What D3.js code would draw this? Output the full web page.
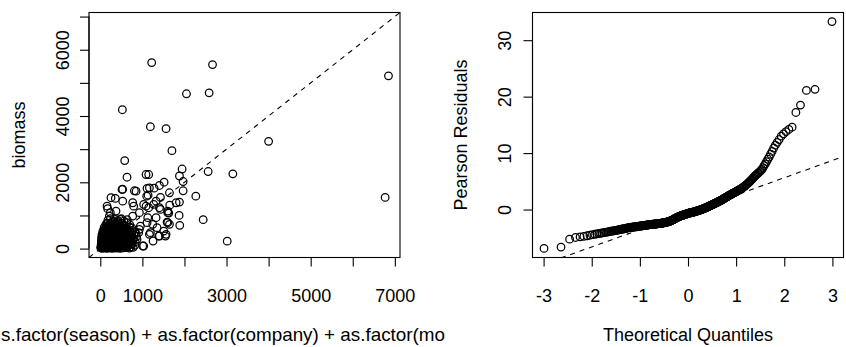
<!DOCTYPE html>
<html><head><meta charset="utf-8">
<script src="https://cdn.jsdelivr.net/npm/d3@7"></script>
<style>
body{margin:0;background:#fff}
svg{display:block}
text{font-family:"Liberation Sans",Arial,Helvetica,sans-serif;fill:#000}
</style>
</head><body>
<svg id="c" width="846" height="347"></svg>
<script>
// ---------- DATA ----------
// left panel: fitted values (x) vs observed biomass (y)
const fitted = [
1221,2667,2048,2587,524,1190,1563,1702,6849,6770,
4000,3150,2563,3016,2445,580,635,1087,1150,1944,
1881,1968,1968,1516,1278,1111,516,532,810,357,
1135,1429,2270,1873,1888,1881,1627,1587,1650,160,
793,1031,1150,1269,1429,1603,1603,1508,1389,1548,
1254,1031,1190,1349,1111,952,912,873,714,476,
238,850,1167,1405,1643,254,1103,1325,1405,1087,
770,532,175,373,214,929,770,1127,1325,1246,
1603,1643,1563,1405,1167,1008,929,1802,
15,25,40,55,70,85,100,120,135,150,170,185,200,220,240,260,280,300,320,345,365,390,410,430,455,480,500,530,560,590,620,650,690,730,780,
20,35,50,65,80,95,110,125,140,160,175,190,210,230,250,270,290,310,330,350,370,395,420,445,470,495,520,550,580,610,640,680,720,760,820,
25,40,55,75,90,105,120,140,155,170,190,205,225,245,265,285,305,325,345,370,390,415,440,465,490,515,545,575,605,640,680,720,770,830,
30,50,70,90,110,130,150,170,190,210,230,255,275,300,320,345,365,390,415,440,465,490,520,550,585,620,660,700,750,800,860,
40,65,85,105,125,145,165,185,210,235,255,280,305,330,355,380,405,430,455,485,515,545,580,615,655,700,745,800,850,
60,85,110,135,160,180,205,230,255,280,305,330,360,385,410,440,470,500,535,570,610,650,700,760,820,
90,120,145,170,200,225,255,285,310,340,370,400,430,465,500,540,580,630,690,750,
130,165,200,240,275,310,350,390,425,470,520,570,630,700,
180,240,300,360,420,500,560,640,
10,30,45,60,75,95,115,130,155,180,200,230,260,290,320,350,380,410,440,470
];
const biomass = [
5612,5552,4671,4700,4190,3678,3618,2955,5212,1543,
3236,2256,2325,225,872,2656,2153,2235,2235,2400,
2190,2024,1744,2003,1822,1814,1783,1790,1744,1513,
1612,1543,1582,1001,701,1402,1071,800,1311,1281,
1281,1332,1233,1332,1182,1083,782,529,379,379,
229,78,481,632,782,680,481,280,180,881,
1083,1733,1834,1904,1684,1534,1582,1432,1233,1281,
1383,1432,1203,1131,981,1083,981,932,932,731,
1131,731,430,379,430,78,580,1383,
20,60,10,45,80,25,55,15,70,35,5,60,30,75,20,50,10,65,35,80,15,50,70,25,55,10,75,40,20,60,30,70,15,50,40,
120,160,100,140,170,110,150,95,175,125,90,160,115,145,100,170,130,90,155,120,175,105,140,165,95,130,170,110,150,95,135,165,120,150,100,
230,200,260,215,270,190,245,210,275,235,195,260,220,270,200,240,185,265,215,250,195,275,225,190,255,210,265,230,195,250,215,270,230,200,
330,300,360,320,375,295,345,310,370,285,335,365,300,350,290,375,320,355,295,340,370,310,345,290,365,320,355,300,345,310,360,
420,450,395,470,430,390,455,415,475,400,440,385,465,420,395,455,430,475,400,445,390,470,425,455,400,440,470,420,450,
520,560,500,545,575,510,550,490,570,525,495,560,515,575,540,500,555,520,575,495,540,570,510,550,490,
630,600,665,620,590,650,610,675,635,595,660,615,670,600,645,620,670,600,650,625,
720,770,700,750,790,715,760,695,780,730,760,700,780,720,
850,900,820,880,840,900,830,870,
40,90,30,150,50,200,40,130,80,140,60,110,150,40,190,60,130,20,100,160
];
// right panel: sorted Pearson residuals (n = 360)
const residuals = [
-6.89,-6.65,-5.25,-4.95,-4.85,-4.75,-4.65,-4.55,-4.45,-4.38,
-4.32,-4.25,-4.2,-4.15,-4.1,-4.05,-4.0,-3.95,-3.9,-3.85,
-3.82,-3.79,-3.76,-3.73,-3.68,-3.65,-3.62,-3.58,-3.54,-3.5,
-3.48,-3.45,-3.42,-3.4,-3.37,-3.33,-3.3,-3.27,-3.24,-3.2,
-3.19,-3.17,-3.16,-3.14,-3.13,-3.11,-3.1,-3.08,-3.07,-3.05,
-3.04,-3.02,-3.01,-2.99,-2.98,-2.96,-2.95,-2.94,-2.92,-2.91,
-2.9,-2.89,-2.87,-2.86,-2.84,-2.83,-2.81,-2.8,-2.78,-2.77,
-2.76,-2.74,-2.73,-2.72,-2.71,-2.7,-2.68,-2.67,-2.66,-2.65,
-2.64,-2.63,-2.62,-2.61,-2.6,-2.6,-2.59,-2.58,-2.58,-2.57,
-2.56,-2.55,-2.54,-2.53,-2.52,-2.51,-2.5,-2.49,-2.48,-2.47,
-2.46,-2.45,-2.44,-2.43,-2.42,-2.41,-2.4,-2.39,-2.38,-2.37,
-2.35,-2.34,-2.33,-2.31,-2.3,-2.28,-2.27,-2.25,-2.24,-2.22,
-2.2,-2.18,-2.16,-2.14,-2.12,-2.1,-2.08,-2.06,-2.03,-2.0,
-1.97,-1.94,-1.91,-1.88,-1.85,-1.82,-1.79,-1.76,-1.72,-1.68,
-1.64,-1.6,-1.57,-1.53,-1.5,-1.47,-1.44,-1.41,-1.38,-1.35,
-1.33,-1.3,-1.28,-1.25,-1.23,-1.2,-1.18,-1.15,-1.13,-1.1,
-1.08,-1.06,-1.04,-1.02,-1.0,-0.98,-0.96,-0.94,-0.92,-0.9,
-0.88,-0.86,-0.84,-0.82,-0.8,-0.78,-0.76,-0.74,-0.72,-0.7,
-0.68,-0.66,-0.65,-0.63,-0.62,-0.6,-0.59,-0.57,-0.56,-0.55,
-0.53,-0.52,-0.5,-0.49,-0.47,-0.46,-0.44,-0.43,-0.41,-0.4,
-0.38,-0.36,-0.34,-0.32,-0.3,-0.28,-0.26,-0.24,-0.22,-0.2,
-0.18,-0.16,-0.14,-0.12,-0.1,-0.08,-0.06,-0.04,-0.02,0.0,
0.02,0.05,0.07,0.1,0.12,0.15,0.17,0.2,0.22,0.25,
0.28,0.31,0.34,0.37,0.4,0.43,0.46,0.49,0.52,0.55,
0.58,0.61,0.64,0.67,0.7,0.73,0.76,0.79,0.82,0.85,
0.88,0.92,0.95,0.99,1.02,1.06,1.09,1.13,1.16,1.2,
1.22,1.26,1.3,1.33,1.37,1.41,1.44,1.48,1.52,1.56,
1.6,1.64,1.68,1.72,1.77,1.82,1.87,1.92,1.96,2.0,
2.05,2.1,2.15,2.2,2.25,2.3,2.35,2.4,2.45,2.5,
2.55,2.6,2.65,2.7,2.75,2.8,2.85,2.9,2.95,3.0,
3.05,3.1,3.15,3.2,3.26,3.32,3.38,3.44,3.5,3.56,
3.63,3.7,3.77,3.85,3.93,4.01,4.1,4.2,4.3,4.4,
4.5,4.62,4.75,4.88,5.0,5.15,5.3,5.45,5.6,5.8,
5.95,6.1,6.25,6.4,6.55,6.7,6.9,7.1,7.4,7.8,
8.1,8.5,8.9,9.3,9.8,10.3,10.9,11.4,11.9,12.4,
13.0,13.4,13.8,14.2,14.6,17.2,18.5,21.1,21.3,33.3
];
// ticks / labels
const scatterTicks = [0,1000,2000,3000,4000,5000,6000,7000];
const scatterXLabels = [0,1000,3000,5000,7000];
const scatterYLabels = [0,2000,4000,6000];
const qqXTicks = [-3,-2,-1,0,1,2,3];
const qqYTicks = [0,10,20,30];
const leftXTitle = "s.factor(season) + as.factor(company) + as.factor(mo";
const leftYTitle = "biomass";
const rightXTitle = "Theoretical Quantiles";
const rightYTitle = "Pearson Residuals";

// ---------- HELPERS ----------
function qnorm(p){
  const a=[-3.969683028665376e+01,2.209460984245205e+02,-2.759285104469687e+02,1.383577518672690e+02,-3.066479806614716e+01,2.506628277459239e+00];
  const b=[-5.447609879822406e+01,1.615858368580409e+02,-1.556989798598866e+02,6.680131188771972e+01,-1.328068155288572e+01];
  const c=[-7.784894002430293e-03,-3.223964580411365e-01,-2.400758277161838e+00,-2.549732539343734e+00,4.374664141464968e+00,2.938163982698783e+00];
  const d=[7.784695709041462e-03,3.224671290700398e-01,2.445134137142996e+00,3.754408661907416e+00];
  const pl=0.02425, ph=1-pl; let q,r;
  if(p<pl){q=Math.sqrt(-2*Math.log(p));return (((((c[0]*q+c[1])*q+c[2])*q+c[3])*q+c[4])*q+c[5])/((((d[0]*q+d[1])*q+d[2])*q+d[3])*q+1);}
  if(p<=ph){q=p-0.5;r=q*q;return (((((a[0]*r+a[1])*r+a[2])*r+a[3])*r+a[4])*r+a[5])*q/(((((b[0]*r+b[1])*r+b[2])*r+b[3])*r+b[4])*r+1);}
  q=Math.sqrt(-2*Math.log(1-p));return -(((((c[0]*q+c[1])*q+c[2])*q+c[3])*q+c[4])*q+c[5])/((((d[0]*q+d[1])*q+d[2])*q+d[3])*q+1);
}
const ext = ([a,b]) => { const d=(b-a)*0.04; return [a-d,b+d]; };

const svg = d3.select("#c");
const FS = 18, R = 3.8, SW = 1.25;
const plotTop = 12.5, plotBottom = 257.5;
const FONT = '"Liberation Sans",Arial,sans-serif';

function panel(cfg){
  const g = svg.append("g");
  const x = d3.scaleLinear().domain(cfg.xd).range([cfg.left, cfg.right]);
  const y = d3.scaleLinear().domain(cfg.yd).range([plotBottom, plotTop]);
  const clipId = cfg.id + "clip";
  svg.append("defs").append("clipPath").attr("id", clipId)
    .append("rect").attr("x", cfg.left).attr("y", plotTop)
    .attr("width", cfg.right-cfg.left).attr("height", plotBottom-plotTop);
  const pg = g.append("g").attr("clip-path", `url(#${clipId})`);
  pg.selectAll("circle").data(cfg.pts).enter().append("circle")
    .attr("cx", d=>x(d[0])).attr("cy", d=>y(d[1])).attr("r", R)
    .attr("fill","none").attr("stroke","#000").attr("stroke-width",SW);
  const [x0,x1] = cfg.xd;
  pg.append("line").attr("x1", x(x0)).attr("y1", y(cfg.line(x0)))
    .attr("x2", x(x1)).attr("y2", y(cfg.line(x1)))
    .attr("stroke","#000").attr("stroke-width",1.1).attr("stroke-dasharray","5,5");
  g.append("rect").attr("x", cfg.left).attr("y", plotTop)
    .attr("width", cfg.right-cfg.left).attr("height", plotBottom-plotTop)
    .attr("fill","none").attr("stroke","#000").attr("stroke-width",1.1);
  const xa = g.append("g").attr("transform",`translate(0,${plotBottom})`)
    .call(d3.axisBottom(x).tickValues(cfg.xt).tickSize(9).tickSizeOuter(0)
      .tickFormat(v => cfg.xl.includes(v) ? String(v) : ""));
  xa.select(".domain").remove();
  xa.append("line").attr("x1", x(cfg.xt[0])).attr("x2", x(cfg.xt[cfg.xt.length-1]))
    .attr("stroke","#000").attr("stroke-width",1.1);
  xa.selectAll(".tick line").attr("stroke","#000").attr("stroke-width",1.1);
  xa.selectAll(".tick text").attr("y", 44).attr("dy",0)
    .style("font-size", FS+"px").style("font-family",FONT).attr("fill","#000");
  const ya = g.append("g").attr("transform",`translate(${cfg.left},0)`)
    .call(d3.axisLeft(y).tickValues(cfg.yt).tickSize(9).tickSizeOuter(0)
      .tickFormat(v => cfg.yl.includes(v) ? String(v) : ""));
  ya.select(".domain").remove();
  ya.append("line").attr("y1", y(cfg.yt[0])).attr("y2", y(cfg.yt[cfg.yt.length-1]))
    .attr("stroke","#000").attr("stroke-width",1.1);
  ya.selectAll(".tick line").attr("stroke","#000").attr("stroke-width",1.1);
  ya.selectAll(".tick text").attr("x",0).attr("y",0).attr("dy",0)
    .attr("text-anchor","middle").attr("transform",`translate(${-cfg.ylabOff},0) rotate(-90)`)
    .style("font-size", FS+"px").style("font-family",FONT).attr("fill","#000");
  g.append("text").attr("transform",`translate(${cfg.ytitleX},${(plotTop+plotBottom)/2}) rotate(-90)`)
    .attr("text-anchor","middle").style("font-size",FS+"px").text(cfg.ytitle);
  return {g,x,y};
}

// left panel
const lim = ext(d3.extent(fitted.concat(biomass)));
panel({
  id:"l", left:89, right:400, xd:lim, yd:lim,
  pts: fitted.map((f,i)=>[f,biomass[i]]),
  line: v=>v,
  xt: scatterTicks, xl: scatterXLabels, yt: scatterTicks, yl: scatterYLabels,
  ylabOff: 20.5, ytitleX: 24.5, ytitle: leftYTitle
});
svg.append("text")
  .attr("x",1).attr("y",341).attr("text-anchor","start")
  .attr("textLength",444).attr("lengthAdjust","spacingAndGlyphs")
  .style("font-size","18.6px").text(leftXTitle);

// right panel (normal QQ)
const n = residuals.length;
const aPP = n <= 10 ? 3/8 : 0.5;
const sorted = residuals.slice().sort((a,b)=>a-b);
const theo = sorted.map((_,i)=>qnorm((i+1-aPP)/(n+1-2*aPP)));
const yq = [d3.quantile(sorted,0.25), d3.quantile(sorted,0.75)];
const xq = [qnorm(0.25), qnorm(0.75)];
const slope = (yq[1]-yq[0])/(xq[1]-xq[0]);
const intercept = yq[0] - slope*xq[0];
panel({
  id:"r", left:532.5, right:843.5, xd:ext(d3.extent(theo)), yd:ext(d3.extent(sorted)),
  pts: theo.map((t,i)=>[t,sorted[i]]),
  line: v=>intercept+slope*v,
  xt: qqXTicks, xl: qqXTicks, yt: qqYTicks, yl: qqYTicks,
  ylabOff: 21.5, ytitleX: 467, ytitle: rightYTitle
});
svg.append("text").attr("x",(532.5+843.5)/2).attr("y",341).attr("text-anchor","middle")
  .style("font-size",FS+"px").text(rightXTitle);
</script>
</body></html>
